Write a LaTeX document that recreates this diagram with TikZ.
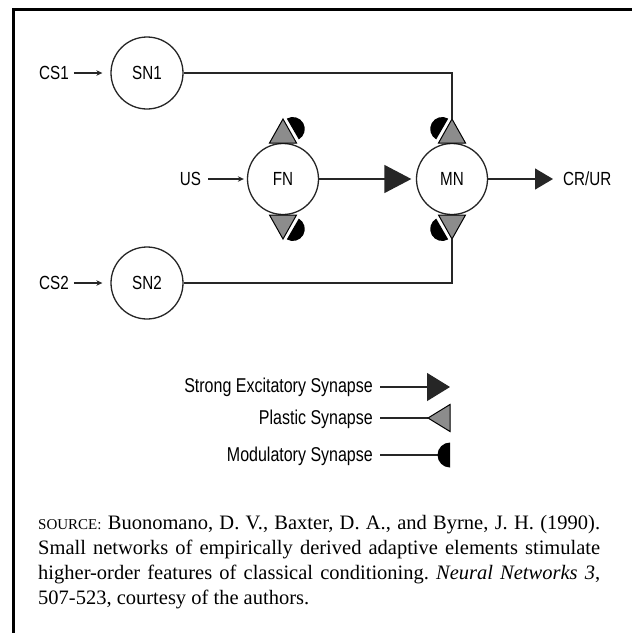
\documentclass[tikz,border=0pt]{standalone}
\usepackage{fontspec}
\setmainfont{Liberation Serif}
\newfontfamily\cond[FakeStretch=0.8]{Liberation Sans}
\usetikzlibrary{arrows.meta}
\newcommand\moddisk[3]{\fill[black,shift={(#1,#2)},rotate=#3] (0,-12pt) arc[start angle=-90,end angle=90,radius=12pt] -- cycle;}
\frenchspacing
\begin{document}
\begin{tikzpicture}[x=1pt,y=1pt,
  neuron/.style={circle, draw=black!85, line width=1.3pt, minimum size=72pt, inner sep=0pt, font=\cond\fontsize{19}{19}\selectfont},
  lbl/.style={inner sep=0pt, font=\cond\fontsize{19}{19}\selectfont},
  legendtext/.style={inner sep=0pt, anchor=base east, font=\cond\fontsize{20}{20}\selectfont},
  wire/.style={line width=1.3pt, draw=black!85},
  plastic/.style={fill=black!45, draw=black, line width=1pt, line join=miter},
  inarrow/.style={wire, -{Stealth[length=6pt,width=5.5pt]}}
]
\useasboundingbox (0,0) rectangle (632,-633);
\fill[white] (0,0) rectangle (632,-633);
\draw[line width=3pt] (13.5,-633) -- (13.5,-9.5) -- (632,-9.5);

% neurons
\node[neuron] (SN1) at (147,-73) {SN1};
\node[neuron] (SN2) at (147,-283) {SN2};
\node[neuron, minimum size=71pt] (FN) at (283,-179) {FN};
\node[neuron, minimum size=71pt] (MN) at (452,-179) {MN};

% input / output labels
\node[lbl] (CS1) at (54,-73) {CS1};
\node[lbl] (CS2) at (54,-283) {CS2};
\node[lbl] (US) at (190.5,-179) {US};
\node[lbl, anchor=west] (CRUR) at (563,-179) {CR/UR};

\draw[inarrow, shorten <=5pt, shorten >=8pt] (CS1) -- (SN1);
\draw[inarrow, shorten <=5pt, shorten >=8pt] (CS2) -- (SN2);
\draw[inarrow, shorten <=7pt, shorten >=3pt] (US) -- (FN);

% plastic synapse triangles
\coordinate (MNa) at (452,-119);
\coordinate (MNb) at (452,-239);
\draw[plastic] (283,-119) -- (296.5,-143) -- (269.5,-143) -- cycle;
\draw[plastic] (283,-239) -- (296.5,-215) -- (269.5,-215) -- cycle;
\draw[plastic] (MNa) -- (465.5,-143) -- (438.5,-143) -- cycle;
\draw[plastic] (MNb) -- (465.5,-215) -- (438.5,-215) -- cycle;

% modulatory half disks
\moddisk{292.8}{-129.0}{30}
\moddisk{442.2}{-129.0}{150}
\moddisk{292.8}{-229.0}{-30}
\moddisk{442.2}{-229.0}{210}

% wires
\draw[wire] (SN1.east) -- (452,-73) -- (MNa);
\draw[wire] (SN2.east) -- (452,-283) -- (MNb);
\draw[wire, -{Triangle[length=27pt,width=28pt]}, shorten >=4.5pt] (FN) -- (MN);
\coordinate (outtip) at (553,-179);
\draw[wire, -{Triangle[length=18pt,width=21pt]}] (MN) -- (outtip);

% legend
\node[legendtext] (L1) at (373,-392) {Strong Excitatory Synapse};
\node[legendtext] (L2) at (373,-424) {Plastic Synapse};
\node[legendtext] (L3) at (373,-461) {Modulatory Synapse};
\coordinate (L1s) at (380,-387);
\coordinate (L1e) at (450,-387);
\draw[wire, -{Triangle[length=23pt,width=28pt]}] (L1s) -- (L1e);
\coordinate (L2s) at (380,-418);
\coordinate (L2e) at (428,-418);
\draw[wire] (L2s) -- (L2e);
\draw[plastic] (L2e) -- (450,-404.5) -- (450,-431.5) -- cycle;
\coordinate (L3s) at (380,-455);
\coordinate (L3e) at (437.5,-455);
\draw[wire] (L3s) -- (L3e);
\fill[black] (450,-442.5) arc[start angle=90,end angle=270,radius=12.5pt] -- cycle;

% source caption
\node[anchor=base west, text width=562pt, align=justify, inner sep=0pt,
      font=\fontsize{20.5}{25}\selectfont] (src) at (38,-529)
{{\fontsize{15}{25}\selectfont SOURCE:} Buonomano, D.\ V., Baxter, D.\ A., and Byrne, J.\ H. (1990).\linebreak
Small networks of empirically derived adaptive elements stimulate\linebreak
higher-order features of classical conditioning. \textit{Neural Networks 3},\linebreak
507-523, courtesy of the authors.};
\end{tikzpicture}
\end{document}
